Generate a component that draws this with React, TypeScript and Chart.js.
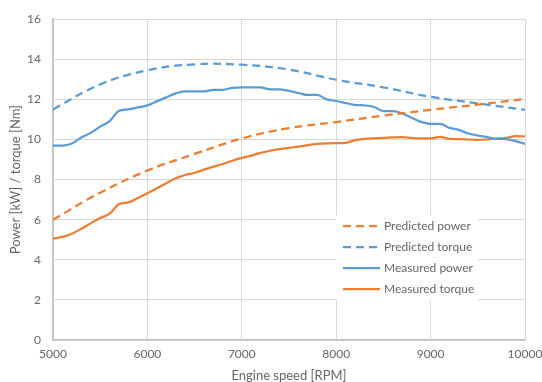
import React, { useEffect, useRef } from "react";
import { Chart, registerables } from "chart.js";

Chart.register(...registerables);

const rpmPredicted = [5000, 5500, 6000, 6500, 7000, 7500, 8000, 8500, 9000, 9500, 10000];
const predictedPower = [6.0, 7.35, 8.45, 9.28, 10.05, 10.57, 10.87, 11.19, 11.48, 11.74, 12.02];
const predictedTorque = [11.5, 12.75, 13.45, 13.75, 13.73, 13.49, 12.98, 12.6, 12.13, 11.8, 11.48];

const rpmMeasured = [
  5000, 5100, 5200, 5300, 5400, 5500, 5600, 5700, 5800, 5900,
  6000, 6100, 6200, 6300, 6400, 6500, 6600, 6700, 6800, 6900,
  7000, 7100, 7200, 7300, 7400, 7500, 7600, 7700, 7800, 7900,
  8000, 8100, 8200, 8300, 8400, 8500, 8600, 8700, 8800, 8900,
  9000, 9100, 9200, 9300, 9400, 9500, 9600, 9700, 9800, 9900, 10000,
];
const measuredPower = [
  9.7, 9.7, 9.8, 10.1, 10.33, 10.64, 10.92, 11.43, 11.5, 11.6,
  11.7, 11.9, 12.1, 12.3, 12.4, 12.4, 12.4, 12.48, 12.48, 12.58,
  12.6, 12.6, 12.6, 12.5, 12.5, 12.42, 12.32, 12.22, 12.22, 12.0,
  11.92, 11.82, 11.72, 11.7, 11.62, 11.42, 11.42, 11.3, 11.08, 10.88,
  10.78, 10.78, 10.58, 10.48, 10.3, 10.2, 10.12, 10.03, 10.02, 9.92, 9.78,
];
const measuredTorque = [
  5.06, 5.14, 5.3, 5.55, 5.83, 6.08, 6.3, 6.78, 6.86, 7.08,
  7.32, 7.57, 7.82, 8.07, 8.23, 8.34, 8.5, 8.65, 8.78, 8.94,
  9.08, 9.2, 9.33, 9.44, 9.52, 9.58, 9.65, 9.72, 9.78, 9.81,
  9.82, 9.83, 9.97, 10.03, 10.06, 10.08, 10.11, 10.12, 10.08, 10.05,
  10.05, 10.13, 10.03, 10.02, 10.0, 9.98, 10.0, 10.05, 10.08, 10.17, 10.15,
];

const xTicks = [5000, 6000, 7000, 8000, 9000, 10000];
const yTicks = [0, 2, 4, 6, 8, 10, 12, 14, 16];

const legendLabels = ["Predicted power", "Predicted torque", "Measured power", "Measured torque"];

const BLUE = "#5B9BD5";
const ORANGE = "#ED7D31";
const TEXT = "#666666";
const FONT = "Lato, 'Open Sans', sans-serif";

const zip = (xs: number[], ys: number[]) => xs.map((x, i) => ({ x, y: ys[i] }));

const legendPlugin = {
  id: "insideLegend",
  afterDatasetsDraw(chart: any) {
    const { ctx, chartArea } = chart;
    const left = chartArea.left + 283;
    const top = chartArea.top + 196;
    const w = 142;
    const h = 85;
    ctx.save();
    ctx.fillStyle = "#ffffff";
    ctx.fillRect(left, top, w, h);
    const items = chart.data.datasets;
    items.forEach((ds: any, i: number) => {
      const y = top + 11 + i * 21;
      ctx.beginPath();
      ctx.strokeStyle = ds.borderColor;
      ctx.lineWidth = 2.25;
      ctx.setLineDash(ds.borderDash || []);
      ctx.moveTo(left + 7, y);
      ctx.lineTo(left + 44, y);
      ctx.stroke();
      ctx.setLineDash([]);
      ctx.fillStyle = TEXT;
      ctx.font = `12px ${FONT}`;
      ctx.textBaseline = "middle";
      ctx.textAlign = "left";
      ctx.fillText(ds.label, left + 48, y);
    });
    ctx.restore();
  },
};

export default function App() {
  const ref = useRef<HTMLCanvasElement | null>(null);
  useEffect(() => {
    document.body.style.margin = "0";
    if (!ref.current) return;
    const chart = new Chart(ref.current, {
      type: "line",
      data: {
        datasets: [
          {
            label: legendLabels[0],
            data: zip(rpmPredicted, predictedPower),
            borderColor: ORANGE,
            borderWidth: 2.25,
            borderDash: [8, 5],
            pointRadius: 0,
            tension: 0.4,
            fill: false,
          },
          {
            label: legendLabels[1],
            data: zip(rpmPredicted, predictedTorque),
            borderColor: BLUE,
            borderWidth: 2.25,
            borderDash: [8, 5],
            pointRadius: 0,
            tension: 0.4,
            fill: false,
          },
          {
            label: legendLabels[2],
            data: zip(rpmMeasured, measuredPower),
            borderColor: BLUE,
            borderWidth: 2.25,
            pointRadius: 0,
            cubicInterpolationMode: "monotone",
            fill: false,
          },
          {
            label: legendLabels[3],
            data: zip(rpmMeasured, measuredTorque),
            borderColor: ORANGE,
            borderWidth: 2.25,
            pointRadius: 0,
            cubicInterpolationMode: "monotone",
            fill: false,
          },
        ] as any,
      },
      options: {
        responsive: false,
        animation: false,
        layout: { padding: { top: 17, right: 0, left: 0, bottom: 0 } },
        plugins: { legend: { display: false }, tooltip: { enabled: false } },
        scales: {
          x: {
            type: "linear",
            min: 5000,
            max: 10000,
            afterFit: (s: any) => {
              s.height = 42;
              s.paddingRight = 17;
              s.paddingLeft = 0;
            },
            afterBuildTicks: (s: any) => { s.ticks = xTicks.map((v) => ({ value: v })); },
            grid: { color: "#D9D9D9", lineWidth: 1, drawTicks: false },
            border: { color: "#BFBFBF", width: 1.5 },
            ticks: {
              color: TEXT,
              font: { family: FONT, size: 12 },
              padding: 7,
              maxRotation: 0,
              callback: (v: any) => String(v),
            },
            title: {
              display: true,
              text: "Engine speed [RPM]",
              color: TEXT,
              font: { family: FONT, size: 13, lineHeight: 1 },
              padding: { top: 0, bottom: 0 },
            },
          },
          y: {
            type: "linear",
            min: 0,
            max: 16,
            afterFit: (s: any) => { s.width = 53; },
            afterBuildTicks: (s: any) => { s.ticks = yTicks.map((v) => ({ value: v })); },
            grid: { color: "#D9D9D9", lineWidth: 1, drawTicks: false },
            border: { color: "#BFBFBF", width: 1.5 },
            ticks: { color: TEXT, font: { family: FONT, size: 12 }, padding: 12, callback: (v: any) => String(v) },
            title: {
              display: true,
              text: "Power [kW] / torque [Nm]",
              color: TEXT,
              font: { family: FONT, size: 13, lineHeight: 1.2 },
              padding: { top: 8, bottom: 0 },
            },
          },
        },
      },
      plugins: [legendPlugin],
    });
    return () => chart.destroy();
  }, []);
  return (
    <div style={{ width: 542, height: 382 }}>
      <canvas ref={ref} width={542} height={382} />
    </div>
  );
}
